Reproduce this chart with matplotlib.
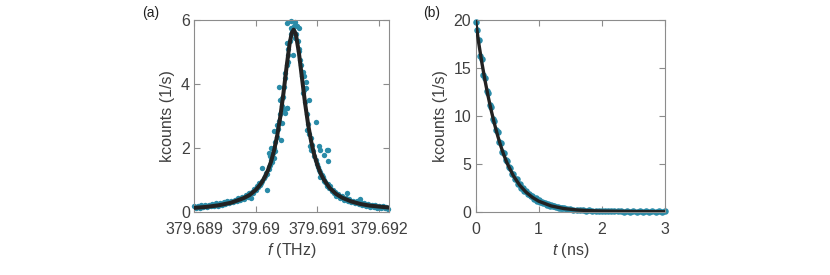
import matplotlib
matplotlib.use('Agg')
import matplotlib.pyplot as plt
import numpy as np
from matplotlib.ticker import FormatStrFormatter

plt.rcParams['font.family'] = ['Liberation Sans', 'DejaVu Sans']
plt.rcParams['mathtext.fontset'] = 'custom'
plt.rcParams['mathtext.it'] = 'Liberation Sans:italic'
plt.rcParams['mathtext.rm'] = 'Liberation Sans'

# ---- (a) resonance scan: detuning from 379.690 THz in GHz, counts in kcounts/s
F0_THZ = 379.690
det_a = [
    -1.00, -0.97, -0.94, -0.91, -0.88, -0.85, -0.82, -0.79, -0.76, -0.73,
    -0.70, -0.67, -0.64, -0.61, -0.58, -0.55, -0.52, -0.49, -0.46, -0.43,
    -0.40, -0.37, -0.34, -0.31, -0.28, -0.25, -0.22, -0.19, -0.16, -0.13,
    -0.10, -0.08, -0.06, -0.04, -0.02, 0.00, 0.02, 0.04, 0.05, 0.07,
    0.09, 0.11, 0.108, 0.13, 0.15, 0.17, 0.19, 0.19, 0.21, 0.215,
    0.22, 0.23, 0.24, 0.25, 0.253, 0.26, 0.27, 0.28, 0.29, 0.295,
    0.30, 0.31, 0.32, 0.34, 0.35, 0.36, 0.376, 0.38, 0.39, 0.40,
    0.415, 0.42, 0.43, 0.43, 0.44, 0.456, 0.46, 0.47, 0.48, 0.48,
    0.50, 0.50, 0.50, 0.51, 0.51, 0.52, 0.52, 0.53, 0.55, 0.565,
    0.57, 0.575, 0.59, 0.60, 0.61, 0.62, 0.63, 0.64, 0.65, 0.67,
    0.68, 0.70, 0.70, 0.71, 0.72, 0.73, 0.75, 0.76, 0.77, 0.78,
    0.79, 0.80, 0.81, 0.82, 0.83, 0.84, 0.85, 0.86, 0.87, 0.875,
    0.89, 0.90, 0.91, 0.93, 0.95, 0.97, 0.97, 0.99, 1.01, 1.02,
    1.03, 1.05, 1.05, 1.05, 1.07, 1.09, 1.10, 1.10, 1.11, 1.13,
    1.15, 1.16, 1.16, 1.17, 1.17, 1.18, 1.19, 1.21, 1.23, 1.25,
    1.27, 1.29, 1.31, 1.34, 1.37, 1.40, 1.43, 1.46, 1.48, 1.49,
    1.52, 1.55, 1.58, 1.61, 1.64, 1.67, 1.69, 1.70, 1.73, 1.76,
    1.79, 1.82, 1.85, 1.88, 1.91, 1.94, 1.97, 2.00, 2.03, 2.06,
    2.09, 2.12, 2.15,
]
counts_a = [
    0.19, 0.12, 0.20, 0.14, 0.21, 0.15, 0.22, 0.16, 0.23, 0.18,
    0.25, 0.19, 0.27, 0.20, 0.29, 0.23, 0.31, 0.26, 0.33, 0.27,
    0.36, 0.30, 0.39, 0.34, 0.44, 0.37, 0.48, 0.41, 0.52, 0.48,
    0.60, 0.43, 0.64, 0.60, 0.72, 0.68, 0.80, 0.78, 0.91, 0.86,
    0.90, 0.98, 1.37, 1.05, 1.12, 1.22, 0.68, 1.20, 1.33, 1.84,
    1.40, 1.74, 1.48, 1.62, 2.00, 1.55, 1.74, 1.84, 1.70, 2.52,
    2.00, 1.90, 2.18, 2.35, 2.73, 2.60, 3.90, 2.85, 3.51, 3.05,
    2.24, 3.30, 3.56, 2.78, 3.60, 3.20, 3.90, 4.20, 3.09, 4.35,
    5.90, 3.26, 4.60, 5.28, 3.25, 4.70, 4.90, 5.10, 5.35, 5.75,
    5.55, 5.96, 5.70, 4.92, 5.70, 5.80, 5.93, 5.45, 5.55, 5.80,
    5.35, 5.75, 5.10, 5.02, 4.76, 4.60, 4.25, 4.39, 3.72, 3.80,
    4.24, 3.45, 3.87, 4.05, 3.05, 2.57, 2.75, 3.51, 2.45, 2.05,
    2.30, 1.95, 2.10, 1.92, 1.75, 2.80, 1.62, 1.50, 1.42, 2.05,
    1.30, 1.93, 1.11, 1.25, 1.15, 1.08, 1.79, 0.98, 1.00, 0.95,
    0.84, 1.95, 0.80, 1.93, 0.88, 1.58, 0.74, 0.80, 0.65, 0.70,
    0.58, 0.64, 0.50, 0.56, 0.44, 0.50, 0.39, 0.45, 0.59, 0.34,
    0.40, 0.30, 0.36, 0.27, 0.33, 0.24, 0.41, 0.29, 0.22, 0.27,
    0.18, 0.25, 0.16, 0.23, 0.15, 0.21, 0.14, 0.20, 0.13, 0.18,
    0.12, 0.17, 0.11,
]
# Lorentzian fit
fit_det_a = [-1.00, -0.80, -0.60, -0.40, -0.20, -0.10, 0.00, 0.05, 0.10, 0.15,
             0.20, 0.25, 0.30, 0.35, 0.40, 0.45, 0.50, 0.55, 0.585, 0.615,
             0.65, 0.70, 0.75, 0.80, 0.85, 0.90, 0.95, 1.00, 1.05, 1.10,
             1.20, 1.30, 1.40, 1.55, 1.70, 1.85, 2.00, 2.16]
fit_counts_a = [0.13, 0.16, 0.21, 0.29, 0.43, 0.53, 0.69, 0.80, 0.93, 1.10,
                1.31, 1.58, 1.94, 2.40, 2.99, 3.71, 4.52, 5.26, 5.60, 5.70,
                5.57, 4.99, 4.20, 3.41, 2.74, 2.20, 1.79, 1.47, 1.22, 1.03,
                0.75, 0.57, 0.45, 0.33, 0.25, 0.20, 0.17, 0.14]

# ---- (b) lifetime decay
t_b = [0.000, 0.025, 0.050, 0.075, 0.100, 0.125, 0.150, 0.175, 0.200, 0.225,
       0.250, 0.275, 0.300, 0.325, 0.350, 0.375, 0.400, 0.425, 0.450, 0.475,
       0.500, 0.525, 0.550, 0.575, 0.600, 0.625, 0.650, 0.675, 0.700, 0.725,
       0.750, 0.775, 0.800, 0.825, 0.850, 0.875, 0.900, 0.925, 0.950, 0.975,
       1.000, 1.025, 1.050, 1.075, 1.100, 1.125, 1.150, 1.175, 1.200, 1.225,
       1.250, 1.275, 1.300, 1.325, 1.350, 1.375, 1.400, 1.45, 1.50, 1.55,
       1.60, 1.65, 1.70, 1.75, 1.80, 1.85, 1.90, 1.95, 2.00, 2.05,
       2.10, 2.15, 2.20, 2.25, 2.30, 2.35, 2.40, 2.45, 2.50, 2.55,
       2.60, 2.65, 2.70, 2.75, 2.80, 2.85, 2.90, 2.95, 3.00]
counts_b = [19.8, 19.0, 17.9, 16.3, 15.9, 14.3, 14.0, 12.6, 12.4, 11.1,
            10.9, 9.7, 9.5, 8.5, 8.3, 7.3, 7.15, 6.3, 6.15, 5.4,
            5.3, 4.65, 4.55, 4.0, 3.95, 3.45, 3.40, 2.95, 2.95, 2.55,
            2.55, 2.18, 2.20, 1.88, 1.90, 1.62, 1.65, 1.40, 1.42, 1.20,
            1.23, 1.03, 1.06, 0.89, 0.92, 0.77, 0.80, 0.66, 0.70, 0.58,
            0.61, 0.50, 0.53, 0.44, 0.47, 0.38, 0.41, 0.31, 0.31, 0.24,
            0.25, 0.19, 0.21, 0.15, 0.17, 0.12, 0.15, 0.10, 0.13, 0.08,
            0.12, 0.07, 0.11, 0.06, 0.10, 0.05, 0.09, 0.05, 0.08, 0.04,
            0.08, 0.03, 0.07, 0.03, 0.07, 0.03, 0.06, 0.03, 0.06]
fit_t_b = [0.0, 0.05, 0.1, 0.15, 0.2, 0.25, 0.3, 0.35, 0.4, 0.45,
           0.5, 0.6, 0.7, 0.8, 0.9, 1.0, 1.2, 1.4, 1.6, 1.8,
           2.0, 2.5, 3.0]
fit_counts_b = [20.0, 17.65, 15.58, 13.72, 12.05, 10.55, 9.19, 7.97, 6.88, 5.92,
                5.09, 3.77, 2.79, 2.07, 1.53, 1.13, 0.63, 0.36, 0.22, 0.14,
                0.10, 0.05, 0.03]

DOT = '#2a8ba8'
LINE = '#222222'
SPINE = '#8c8c8c'
TXT = '#404040'
FS = 11.5

fig = plt.figure(figsize=(8.3, 2.75), dpi=100)
ax1 = fig.add_axes([0.2337, 0.229, 0.2349, 0.698])
ax2 = fig.add_axes([0.5729, 0.229, 0.2283, 0.698])

f_a = F0_THZ + np.array(det_a) * 1e-3
f_fit = F0_THZ + np.array(fit_det_a) * 1e-3
ax1.scatter(f_a, counts_a, s=15, color=DOT, lw=0, zorder=2, clip_on=False)
ax1.plot(f_fit, fit_counts_a, color=LINE, lw=2.9, zorder=3, solid_joinstyle='round')
ax1.set_xlim(379.689, 379.69216)
ax1.set_ylim(0, 6)
ax1.set_xticks([379.689, 379.690, 379.691, 379.692])
ax1.xaxis.set_major_formatter(FormatStrFormatter('%g'))
ax1.set_yticks([0, 2, 4, 6])
ax1.set_xlabel('$f$ (THz)')
ax1.set_ylabel('kcounts (1/s)')

ax2.scatter(t_b, counts_b, s=22, color=DOT, lw=0, zorder=2, clip_on=False)
ax2.plot(fit_t_b, fit_counts_b, color=LINE, lw=2.4, zorder=3)
ax2.set_xlim(0, 3)
ax2.set_ylim(0, 20)
ax2.set_xticks([0, 1, 2, 3])
ax2.set_yticks([0, 5, 10, 15, 20])
ax2.set_xlabel('$t$ (ns)')
ax2.set_ylabel('kcounts (1/s)')

for ax in (ax1, ax2):
    for sp in ax.spines.values():
        sp.set_color(SPINE)
        sp.set_linewidth(0.8)
    ax.tick_params(direction='in', top=True, right=True, length=4, width=0.8,
                   color=SPINE, labelcolor=TXT, labelsize=FS)
    ax.tick_params(axis='x', pad=7)
    ax.tick_params(axis='y', pad=3)
    ax.xaxis.label.set_color(TXT)
    ax.yaxis.label.set_color(TXT)
    ax.xaxis.label.set_size(FS)
    ax.yaxis.label.set_size(FS)
    ax.xaxis.labelpad = 3
    ax.yaxis.labelpad = 4

fig.text(142 / 830, 1 - 13 / 275, '(a)', ha='left', va='center', fontsize=10, color='#202020')
fig.text(423 / 830, 1 - 13 / 275, '(b)', ha='left', va='center', fontsize=10, color='#202020')

fig.savefig('out.png', dpi=100)
